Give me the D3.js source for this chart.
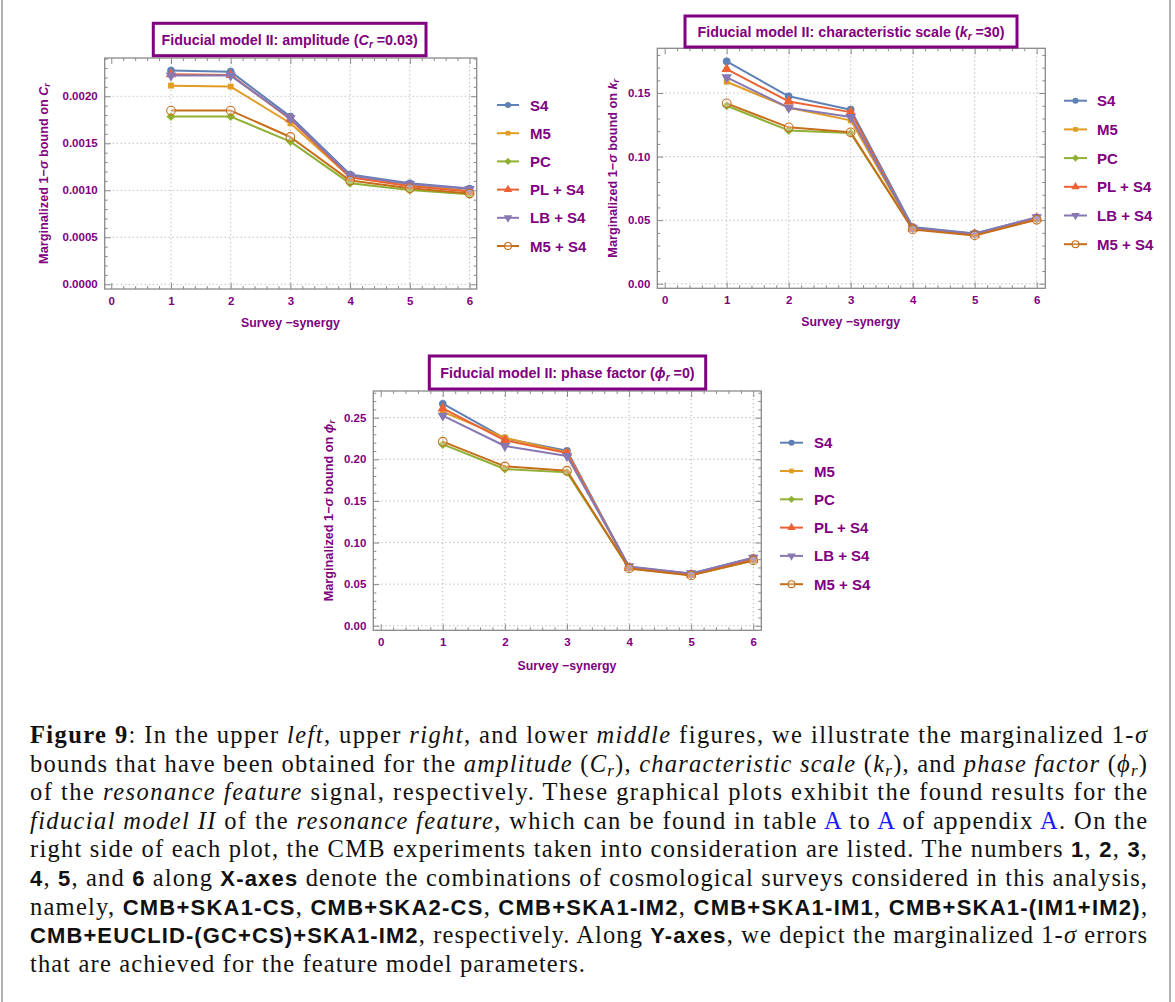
<!DOCTYPE html>
<html>
<head>
<meta charset="utf-8">
<script src="https://cdn.jsdelivr.net/npm/d3@7"></script>
<style>
  html, body { margin: 0; padding: 0; background: #fff; }
  svg { display: block; }
</style>
</head>
<body>
<svg id="fig" width="1175" height="1002"></svg>
<script>
// ---------------- data ----------------
const surveys = [1, 2, 3, 4, 5, 6];
const experiments = ["S4", "M5", "PC", "PL + S4", "LB + S4", "M5 + S4"];

// marginalized 1-sigma bound on the amplitude C_r
const ampS4   = [0.002273, 0.002262, 0.001784, 0.001167, 0.001074, 0.001018];
const ampM5   = [0.002113, 0.002103, 0.001713, 0.001138, 0.001057, 0.000993];
const ampPC   = [0.001784, 0.001784, 0.001518, 0.001074, 0.001004, 0.000957];
const ampPLS4 = [0.002234, 0.002227, 0.001755, 0.001138, 0.001043, 0.000986];
const ampLBS4 = [0.002220, 0.002220, 0.001766, 0.001156, 0.001067, 0.001014];
const ampM5S4 = [0.001848, 0.001848, 0.001567, 0.001103, 0.001021, 0.000965];

// marginalized 1-sigma bound on the characteristic scale k_r
const scaleS4   = [0.1749, 0.1474, 0.1369, 0.0446, 0.0396, 0.0522];
const scaleM5   = [0.1589, 0.1385, 0.1285, 0.0433, 0.0388, 0.0509];
const scalePC   = [0.1400, 0.1206, 0.1185, 0.0433, 0.0385, 0.0506];
const scalePLS4 = [0.1689, 0.1434, 0.1350, 0.0433, 0.0388, 0.0514];
const scaleLBS4 = [0.1623, 0.1385, 0.1311, 0.0441, 0.0393, 0.0522];
const scaleM5S4 = [0.1419, 0.1230, 0.1191, 0.0427, 0.0380, 0.0503];

// marginalized 1-sigma bound on the phase factor phi_r
const phaseS4   = [0.2668, 0.2252, 0.2103, 0.0705, 0.0625, 0.0817];
const phaseM5   = [0.2572, 0.2260, 0.2083, 0.0697, 0.0613, 0.0801];
const phasePC   = [0.2179, 0.1883, 0.1843, 0.0689, 0.0609, 0.0785];
const phasePLS4 = [0.2612, 0.2228, 0.2075, 0.0697, 0.0613, 0.0797];
const phaseLBS4 = [0.2524, 0.2160, 0.2039, 0.0713, 0.0629, 0.0817];
const phaseM5S4 = [0.2212, 0.1915, 0.1863, 0.0689, 0.0605, 0.0785];

const xTickLabels = [0, 1, 2, 3, 4, 5, 6];
const ampTicks   = [0, 0.0005, 0.0010, 0.0015, 0.0020];
const scaleTicks = [0, 0.05, 0.10, 0.15];
const phaseTicks = [0, 0.05, 0.10, 0.15, 0.20, 0.25];

// ---------------- styling ----------------
const PURPLE = "#800080";
const seriesColors = ["#5E81B5", "#E19C24", "#8FB032", "#EB6235", "#8778B3", "#C56E1A"];
const markerKinds  = ["circle", "square", "diamond", "triUp", "triDown", "open"];
const FRAME = "#8a8a8a";
const GRID = "#b4b4b4";
const SANS = "Liberation Sans, Arial, sans-serif";

const panels = [
  {
    titleText: "Fiducial model II: amplitude (", sym: "C", symValue: " =0.03)",
    series: [ampS4, ampM5, ampPC, ampPLS4, ampLBS4, ampM5S4],
    yTicks: ampTicks, yMinor: 0.0001, fmt: ".4f",
    frame: { x0: 104.7, x1: 476.7, y0: 58, y1: 289 },
    xDom: [-0.11, 6.12], yDom: [-0.00005, 0.002407],
    titleBox: { x0: 153.3, x1: 426, y0: 23.3, y1: 55.7 },
    ylabX: 43, legend: { lx0: 497, lx1: 519, tx: 530, y: 105, dy: 28.2 },
    xlabGap: 33
  },
  {
    titleText: "Fiducial model II: characteristic  scale (", sym: "k", symValue: " =30)",
    series: [scaleS4, scaleM5, scalePC, scalePLS4, scaleLBS4, scaleM5S4],
    yTicks: scaleTicks, yMinor: 0.01, fmt: ".2f",
    frame: { x0: 657.3, x1: 1045.3, y0: 48.3, y1: 288.3 },
    xDom: [-0.119, 6.139], yDom: [-0.0036, 0.1852],
    titleBox: { x0: 685, x1: 1017, y0: 16, y1: 47 },
    ylabX: 612, legend: { lx0: 1064, lx1: 1087, tx: 1097, y: 100.7, dy: 28.7 },
    xlabGap: 33.5
  },
  {
    titleText: "Fiducial model II: phase factor  (", sym: "\u03d5", symValue: " =0)",
    series: [phaseS4, phaseM5, phasePC, phasePLS4, phaseLBS4, phaseM5S4],
    yTicks: phaseTicks, yMinor: 0.01, fmt: ".2f",
    frame: { x0: 373.3, x1: 761.3, y0: 391, y1: 630.3 },
    xDom: [-0.119, 6.129], yDom: [-0.0055, 0.2821],
    titleBox: { x0: 429.3, x1: 705.7, y0: 356, y1: 389 },
    ylabX: 328, legend: { lx0: 780, lx1: 803, tx: 814, y: 442.7, dy: 28.3 },
    xlabGap: 35
  }
];

const svg = d3.select("#fig");

// page edges
svg.append("line").attr("x1", 2).attr("x2", 2).attr("y1", 0).attr("y2", 1002)
  .attr("stroke", "#9a9a9a").attr("stroke-width", 1.5);
svg.append("line").attr("x1", 1170).attr("x2", 1170).attr("y1", 0).attr("y2", 1002)
  .attr("stroke", "#9a9a9a").attr("stroke-width", 1.5);

function drawMarker(g, kind, cx, cy, color, k) {
  const s = k || 1;
  if (kind === "open") {
    g.append("circle").attr("cx", cx).attr("cy", cy).attr("r", 4.3 * s)
      .attr("fill", "#fff").attr("fill-opacity", 0.3)
      .attr("stroke", color).attr("stroke-width", 1.1);
    return;
  }
  let path, rot = 0;
  if (kind === "circle") path = d3.symbol(d3.symbolCircle, 46 * s * s)();
  else if (kind === "square") path = d3.symbol(d3.symbolSquare, 34 * s * s)();
  else if (kind === "diamond") { path = d3.symbol(d3.symbolSquare, 40 * s * s)(); rot = 45; }
  else if (kind === "triUp") path = d3.symbol(d3.symbolTriangle, 48 * s * s)();
  else if (kind === "triDown") { path = d3.symbol(d3.symbolTriangle, 48 * s * s)(); rot = 180; }
  g.append("path").attr("d", path)
    .attr("transform", `translate(${cx},${cy}) rotate(${rot})`)
    .attr("fill", color);
}

function multiples(lo, hi, step) {
  const out = [];
  const i0 = Math.ceil(lo / step - 1e-9), i1 = Math.floor(hi / step + 1e-9);
  for (let i = i0; i <= i1; i++) out.push(+(i * step).toFixed(10));
  return out;
}

panels.forEach(p => {
  const f = p.frame;
  const x = d3.scaleLinear().domain(p.xDom).range([f.x0, f.x1]);
  const y = d3.scaleLinear().domain(p.yDom).range([f.y1, f.y0]);
  const g = svg.append("g");

  // dotted grid
  const grid = g.append("g").attr("stroke", GRID).attr("stroke-width", 1)
    .attr("stroke-dasharray", "1.2,2.8");
  p.yTicks.forEach(v => grid.append("line")
    .attr("x1", f.x0).attr("x2", f.x1).attr("y1", y(v)).attr("y2", y(v)));
  surveys.forEach(v => grid.append("line")
    .attr("x1", x(v)).attr("x2", x(v)).attr("y1", f.y0).attr("y2", f.y1));

  // frame ticks (inward on every side)
  const xMajor = xTickLabels;
  const xMinor = multiples(p.xDom[0], p.xDom[1], 0.2).filter(v => Math.abs(v - Math.round(v)) > 1e-6);
  const yMinorVals = multiples(p.yDom[0], p.yDom[1], p.yMinor)
    .filter(v => !p.yTicks.some(t => Math.abs(t - v) < p.yMinor * 1e-3));

  const tickStyle = sel => {
    sel.select(".domain").remove();
    sel.selectAll(".tick line").attr("stroke", FRAME).attr("stroke-width", 1);
  };
  const labelStyle = sel => sel.selectAll(".tick text")
    .attr("fill", PURPLE).attr("font-family", SANS)
    .attr("font-weight", "bold").attr("font-size", 11.5);

  // bottom
  g.append("g").attr("transform", `translate(0,${f.y1})`)
    .call(d3.axisBottom(x).tickValues(xMajor).tickSize(-6).tickPadding(7.5).tickFormat(d3.format("d")))
    .call(tickStyle).call(labelStyle);
  g.append("g").attr("transform", `translate(0,${f.y1})`)
    .call(d3.axisBottom(x).tickValues(xMinor).tickSize(-3).tickFormat(""))
    .call(tickStyle);
  // top
  g.append("g").attr("transform", `translate(0,${f.y0})`)
    .call(d3.axisTop(x).tickValues(xMajor).tickSize(-6).tickFormat("")).call(tickStyle);
  g.append("g").attr("transform", `translate(0,${f.y0})`)
    .call(d3.axisTop(x).tickValues(xMinor).tickSize(-3).tickFormat("")).call(tickStyle);
  // left
  g.append("g").attr("transform", `translate(${f.x0},0)`)
    .call(d3.axisLeft(y).tickValues(p.yTicks).tickSize(-6).tickPadding(7).tickFormat(d3.format(p.fmt)))
    .call(tickStyle).call(labelStyle);
  g.append("g").attr("transform", `translate(${f.x0},0)`)
    .call(d3.axisLeft(y).tickValues(yMinorVals).tickSize(-3).tickFormat("")).call(tickStyle);
  // right
  g.append("g").attr("transform", `translate(${f.x1},0)`)
    .call(d3.axisRight(y).tickValues(p.yTicks).tickSize(-6).tickFormat("")).call(tickStyle);
  g.append("g").attr("transform", `translate(${f.x1},0)`)
    .call(d3.axisRight(y).tickValues(yMinorVals).tickSize(-3).tickFormat("")).call(tickStyle);

  // frame
  g.append("rect").attr("x", f.x0).attr("y", f.y0)
    .attr("width", f.x1 - f.x0).attr("height", f.y1 - f.y0)
    .attr("fill", "none").attr("stroke", FRAME).attr("stroke-width", 1.3);

  // series
  const line = d3.line().x((d, i) => x(surveys[i])).y(d => y(d));
  p.series.forEach((vals, si) => {
    const sg = g.append("g");
    sg.append("path").attr("d", line(vals)).attr("fill", "none")
      .attr("stroke", seriesColors[si]).attr("stroke-width", 2)
      .attr("stroke-linejoin", "round");
    vals.forEach((v, i) => drawMarker(sg, markerKinds[si], x(surveys[i]), y(v), seriesColors[si], 1));
  });

  // title box
  const tb = p.titleBox;
  g.append("rect").attr("x", tb.x0).attr("y", tb.y0)
    .attr("width", tb.x1 - tb.x0).attr("height", tb.y1 - tb.y0)
    .attr("fill", "#fff").attr("stroke", PURPLE).attr("stroke-width", 3);
  const tt = g.append("text").attr("x", (tb.x0 + tb.x1) / 2).attr("y", (tb.y0 + tb.y1) / 2 + 5)
    .attr("text-anchor", "middle").attr("fill", PURPLE)
    .attr("font-family", SANS).attr("font-weight", "bold").attr("font-size", 14.3);
  tt.append("tspan").text(p.titleText);
  tt.append("tspan").attr("font-style", "italic").text(p.sym);
  tt.append("tspan").attr("font-style", "italic").attr("font-size", 10).attr("dy", 3).text("r");
  tt.append("tspan").attr("dy", -3).text(p.symValue);

  // y label
  const cy = (f.y0 + f.y1) / 2;
  const yl = g.append("text")
    .attr("transform", `translate(${p.ylabX + 4.5},${cy}) rotate(-90)`)
    .attr("text-anchor", "middle").attr("fill", PURPLE)
    .attr("font-family", SANS).attr("font-weight", "bold").attr("font-size", 12.7);
  yl.append("tspan").text("Marginalized  1\u2212");
  yl.append("tspan").attr("font-style", "italic").text("\u03c3");
  yl.append("tspan").text(" bound on ");
  yl.append("tspan").attr("font-style", "italic").text(p.sym);
  yl.append("tspan").attr("font-style", "italic").attr("font-size", 9).attr("dy", 2.5).text("r");

  // x label
  g.append("text").attr("x", x(3)).attr("y", f.y1 + p.xlabGap + 4.5)
    .attr("text-anchor", "middle").attr("fill", PURPLE)
    .attr("font-family", SANS).attr("font-weight", "bold").attr("font-size", 12.3)
    .text("Survey \u2212synergy");

  // legend
  const L = p.legend;
  experiments.forEach((name, si) => {
    const ly = L.y + si * L.dy;
    const lg = g.append("g");
    lg.append("line").attr("x1", L.lx0).attr("x2", L.lx1).attr("y1", ly).attr("y2", ly)
      .attr("stroke", seriesColors[si]).attr("stroke-width", 2);
    drawMarker(lg, markerKinds[si], (L.lx0 + L.lx1) / 2, ly, seriesColors[si], 0.8);
    lg.append("text").attr("x", L.tx).attr("y", ly + 5.5).attr("fill", PURPLE)
      .attr("font-family", SANS).attr("font-weight", "bold").attr("font-size", 15).text(name);
  });
});

// ---------------- caption ----------------
// segment kinds: r roman, i italic, b bold serif, s bold sans, m math italic, u subscript, a link
const captionLines = [
  [["b", "Figure 9"], ["r", ":  In the upper "], ["i", "left"], ["r", ", upper "], ["i", "right"], ["r", ", and lower "], ["i", "middle"], ["r", " figures, we illustrate the marginalized 1-"], ["m", "\u03c3"]],
  [["r", "bounds that have been obtained for the "], ["i", "amplitude"], ["r", " ("], ["m", "C"], ["u", "r"], ["r", "), "], ["i", "characteristic scale"], ["r", " ("], ["m", "k"], ["u", "r"], ["r", "), and "], ["i", "phase factor"], ["r", " ("], ["m", "\u03d5"], ["u", "r"], ["r", ")"]],
  [["r", "of the "], ["i", "resonance feature"], ["r", " signal, respectively.  These graphical plots exhibit the found results for the"]],
  [["i", "fiducial model II"], ["r", " of the "], ["i", "resonance feature"], ["r", ", which can be found in table "], ["a", "A"], ["r", " to "], ["a", "A"], ["r", " of appendix "], ["a", "A"], ["r", ". On the"]],
  [["r", "right side of each plot, the CMB experiments taken into consideration are listed. The numbers "], ["s", "1"], ["r", ", "], ["s", "2"], ["r", ", "], ["s", "3"], ["r", ","]],
  [["s", "4"], ["r", ", "], ["s", "5"], ["r", ", and "], ["s", "6"], ["r", " along "], ["s", "X-axes"], ["r", " denote the combinations of cosmological surveys considered in this analysis,"]],
  [["r", "namely, "], ["s", "CMB+SKA1-CS"], ["r", ", "], ["s", "CMB+SKA2-CS"], ["r", ", "], ["s", "CMB+SKA1-IM2"], ["r", ", "], ["s", "CMB+SKA1-IM1"], ["r", ", "], ["s", "CMB+SKA1-(IM1+IM2)"], ["r", ","]],
  [["s", "CMB+EUCLID-(GC+CS)+SKA1-IM2"], ["r", ", respectively. Along "], ["s", "Y-axes"], ["r", ", we depict the marginalized 1-"], ["m", "\u03c3"], ["r", " errors"]],
  [["r", "that are achieved for the feature model parameters."]]
];
const captionWidths = [1117, 1117, 1117, 1117, 1117, 1117, 1117, 1117, 555];

const cap = svg.append("g");
captionLines.forEach((segs, li) => {
  const t = cap.append("text").attr("x", 30).attr("y", 743 + li * 28.6)
    .attr("font-family", "Liberation Serif, 'Times New Roman', serif")
    .attr("font-size", 24.5).attr("fill", "#111")
    .attr("textLength", captionWidths[li]).attr("lengthAdjust", "spacing");
  let shifted = false;
  segs.forEach(([kind, str]) => {
    const ts = t.append("tspan").text(str);
    if (kind === "i" || kind === "m") ts.attr("font-style", "italic");
    if (kind === "b") ts.attr("font-weight", "bold");
    if (kind === "s") ts.attr("font-weight", "bold")
      .attr("font-family", "'Liberation Sans', sans-serif").attr("font-size", 22);
    if (kind === "a") ts.attr("fill", "#1a1aff");
    if (kind === "u") { ts.attr("font-style", "italic").attr("font-size", 17).attr("dy", 4); shifted = true; }
    else if (shifted) { ts.attr("dy", -4); shifted = false; }
  });
});
</script>
</body>
</html>
